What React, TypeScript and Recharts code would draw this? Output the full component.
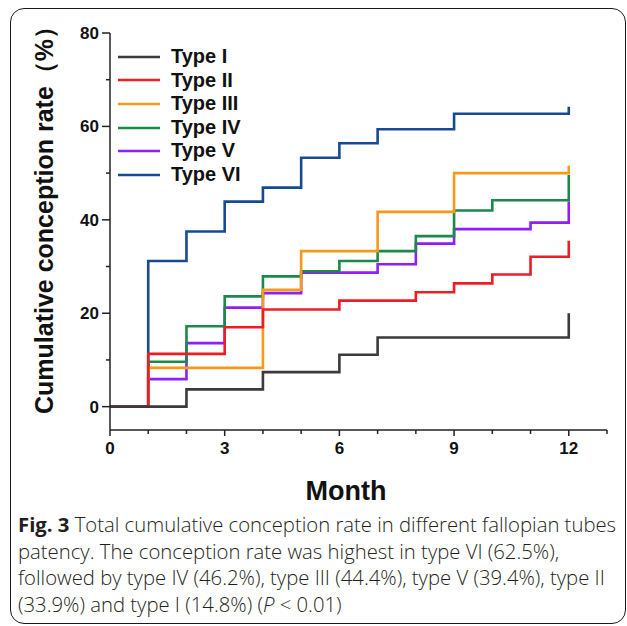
import React from "react";
import { LineChart, Line, XAxis, YAxis, Legend, Label } from "recharts";

// Months at which each curve steps, and cumulative conception rate (%) after each step
const typeIMonths = [0, 2, 4, 6, 7, 12, 12];
const typeIRates = [0, 3.7, 7.4, 11.1, 14.8, 14.8, 20.0];

const typeIIMonths = [0, 1, 3, 4, 6, 8, 9, 10, 11, 12, 12];
const typeIIRates = [0, 11.3, 17.0, 20.8, 22.7, 24.5, 26.4, 28.3, 32.1, 32.1, 35.5];

const typeIIIMonths = [0, 1, 4, 5, 7, 9, 12, 12];
const typeIIIRates = [0, 8.3, 25.0, 33.3, 41.7, 50.0, 50.0, 51.6];

const typeIVMonths = [0, 1, 2, 3, 4, 5, 6, 7, 8, 9, 10, 12, 12];
const typeIVRates = [0, 9.6, 17.2, 23.6, 27.9, 29.0, 31.2, 33.3, 36.5, 42.0, 44.2, 44.2, 49.6];

const typeVMonths = [0, 1, 2, 3, 4, 5, 7, 8, 9, 11, 12, 12];
const typeVRates = [0, 5.9, 13.6, 21.2, 24.3, 28.7, 30.5, 34.9, 38.0, 39.4, 39.4, 43.9];

const typeVIMonths = [0, 1, 2, 3, 4, 5, 6, 7, 9, 12, 12];
const typeVIRates = [0, 31.2, 37.5, 43.9, 46.9, 53.3, 56.4, 59.4, 62.7, 62.7, 64.2];

const seriesNames = ["Type I", "Type II", "Type III", "Type IV", "Type V", "Type VI"];
const seriesColors = ["#3b3b3b", "#ee1c25", "#f39a1b", "#1b8a48", "#8f1ff5", "#164b94"];

const xTicks = [0, 1, 2, 3, 4, 5, 6, 7, 8, 9, 10, 11, 12, 13];
const xLabelTicks = [0, 3, 6, 9, 12];
const yTicks = [0, 10, 20, 30, 40, 50, 60, 70, 80];
const yLabelTicks = [0, 20, 40, 60, 80];

const build = (months: number[], rates: number[]) =>
  months.map((m, i) => ({ month: m, rate: rates[i] }));

const seriesData = [
  build(typeIMonths, typeIRates),
  build(typeIIMonths, typeIIRates),
  build(typeIIIMonths, typeIIIRates),
  build(typeIVMonths, typeIVRates),
  build(typeVMonths, typeVRates),
  build(typeVIMonths, typeVIRates),
];

const AXIS = "#222";
const BOLD_FONT = "'Liberation Sans', Arial, Helvetica, sans-serif";

const XTick = (props: any) => {
  const { x, y, payload } = props;
  const major = xLabelTicks.includes(payload.value);
  return (
    <g>
      <line x1={x} x2={x} y1={y} y2={y + (major ? 6 : 4)} stroke={AXIS} strokeWidth={1.5} />
      {major && (
        <text
          x={x}
          y={y + 24}
          textAnchor="middle"
          fontSize={17}
          fontWeight="bold"
          fontFamily={BOLD_FONT}
          fill="#111"
        >
          {payload.value}
        </text>
      )}
    </g>
  );
};

const YTick = (props: any) => {
  const { x, y, payload } = props;
  const major = yLabelTicks.includes(payload.value);
  return (
    <g>
      <line x1={x - (major ? 8 : 4)} x2={x} y1={y} y2={y} stroke={AXIS} strokeWidth={1.5} />
      {major && (
        <text
          x={x - 11}
          y={y + 6}
          textAnchor="end"
          fontSize={17}
          fontWeight="bold"
          fontFamily={BOLD_FONT}
          fill="#111"
        >
          {payload.value}
        </text>
      )}
    </g>
  );
};

const LegendContent = () => (
  <div style={{ fontFamily: BOLD_FONT }}>
    {seriesNames.map((name, i) => (
      <div key={name} style={{ display: "flex", alignItems: "center", height: 23.6 }}>
        <svg width={42} height={6} style={{ display: "block" }}>
          <line x1={0} x2={42} y1={3} y2={3} stroke={seriesColors[i]} strokeWidth={2.5} />
        </svg>
        <span
          style={{
            marginLeft: 11,
            fontSize: 20,
            fontWeight: "bold",
            color: "#111",
            lineHeight: "23.6px",
            whiteSpace: "nowrap",
          }}
        >
          {name}
        </span>
      </div>
    ))}
  </div>
);

const drawOrder = [5, 4, 3, 2, 1, 0];

export default function App() {
  return (
    <div
      style={{
        position: "fixed",
        left: 0,
        top: 0,
        width: 627,
        height: 626,
        overflow: "hidden",
        background: "#fff",
      }}
    >
      <div
        style={{
          position: "absolute",
          left: 10,
          top: 8,
          width: 614,
          height: 614,
          border: "1.5px solid #1a1a1a",
          borderRadius: 14,
        }}
      />
      <div style={{ position: "absolute", left: 0, top: 0 }}>
        <LineChart width={627} height={520} margin={{ top: 33, right: 20, left: 50, bottom: 60 }}>
          <XAxis
            type="number"
            dataKey="month"
            domain={[0, 13]}
            ticks={xTicks}
            interval={0}
            tickSize={0}
            tickMargin={0}
            tickLine={false}
            tick={<XTick />}
            height={30}
            axisLine={{ stroke: AXIS, strokeWidth: 1.5 }}
            allowDuplicatedCategory={false}
          >
            <Label
              content={() => (
                <text
                  x={346}
                  y={500}
                  textAnchor="middle"
                  fontSize={27}
                  fontWeight="bold"
                  fontFamily={BOLD_FONT}
                  fill="#111"
                >
                  Month
                </text>
              )}
            />
          </XAxis>
          <YAxis
            type="number"
            domain={[-5, 80]}
            ticks={yTicks}
            interval={0}
            tickSize={0}
            tickMargin={0}
            tickLine={false}
            tick={<YTick />}
            width={60}
            axisLine={{ stroke: AXIS, strokeWidth: 1.5 }}
          >
            <Label
              content={() => (
                <text
                  x={53}
                  y={214}
                  transform="rotate(-90 53 214)"
                  textAnchor="middle"
                  fontSize={25}
                  fontWeight="bold"
                  fontFamily={BOLD_FONT}
                  fill="#111"
                >
                  Cumulative conception rate（%）
                </text>
              )}
            />
          </YAxis>
          <Legend
            layout="vertical"
            align="center"
            verticalAlign="middle"
            content={<LegendContent />}
            wrapperStyle={{ position: "absolute", left: 118, top: 45, width: 160 }}
          />
          {drawOrder.map((i) => (
            <Line
              key={seriesNames[i]}
              data={seriesData[i]}
              dataKey="rate"
              name={seriesNames[i]}
              type="stepAfter"
              stroke={seriesColors[i]}
              strokeWidth={2.6}
              dot={false}
              activeDot={false}
              isAnimationActive={false}
            />
          ))}
        </LineChart>
      </div>
      <div
        style={{
          position: "absolute",
          left: 18,
          top: 511,
          width: 610,
          fontFamily: "'Open Sans', 'Noto Sans', sans-serif",
          fontSize: 20.3,
          fontWeight: 300,
          lineHeight: "26.5px",
          color: "#231f20",
          whiteSpace: "nowrap",
        }}
      >
        <div>
          <b style={{ fontWeight: 700 }}>Fig. 3</b> Total cumulative conception rate in different fallopian tubes
        </div>
        <div>patency. The conception rate was highest in type VI (62.5%),</div>
        <div>followed by type IV (46.2%), type III (44.4%), type V (39.4%), type II</div>
        <div>
          (33.9%) and type I (14.8%) (<i>P</i> &lt; 0.01)
        </div>
      </div>
    </div>
  );
}
